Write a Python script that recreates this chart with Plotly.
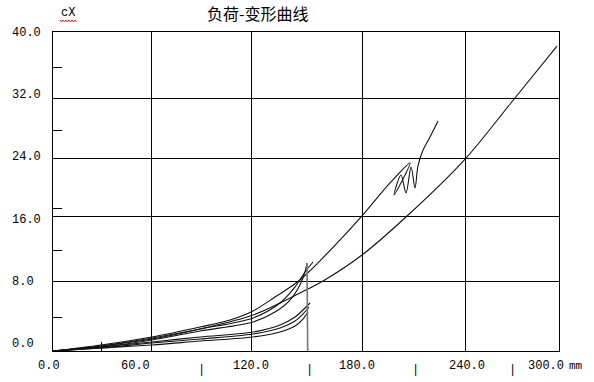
import plotly.graph_objects as go

# ---- axes / labels ----
X_RANGE = [0, 300]
Y_RANGE = [0, 40]
grid_x = [58.6, 117.9, 183.7, 244.8]
grid_y = [8.7, 16.9, 24.2, 31.6]
x_label_pos = [-2.4, 49.2, 117.4, 180.2, 245.5, 292.3]
x_label_text = ["0.0", "60.0", "120.0", "180.0", "240.0", "300.0"]
y_label_pos = [0.88, 8.65, 16.43, 24.33, 32.1, 39.87]
y_label_text = ["0.0", "8.0", "16.0", "24.0", "32.0", "40.0"]
x_bar_pos = [88.3, 151.8, 214.7, 272.7]
x_minor = [28.5]
y_minor = [4.26, 12.66, 17.81, 27.71, 35.49]
title_text = "负荷-变形曲线"
y_unit = "cX"
x_unit = "mm"

# ---- curves (mm, load) ----
curve_a_x = [0, 28.5, 58.7, 87.2, 118.6, 146.4, 160.1, 183.2, 209.9, 244.9, 271.0, 298.8]
curve_a_y = [0, 0.63, 1.50, 2.76, 4.51, 7.27, 8.78, 12.04, 16.93, 24.20, 30.97, 38.24]

curve_b_x = [0, 28.5, 58.7, 87.2, 105.0, 118.6, 131.6, 146.4, 170.2, 183.2, 199.8, 211.7,
             202.2, 206.3, 209.3, 212.3, 214.6, 216.4, 219.4, 223.5, 228.3]
curve_b_y = [0, 0.75, 1.75, 3.01, 3.89, 5.02, 6.77, 8.90, 13.92, 16.93, 21.07, 23.57,
             19.56, 22.07, 19.81, 23.07, 20.44, 23.20, 25.20, 26.83, 28.84]

curve_c_x = [0, 28.5, 58.7, 87.2, 118.6, 134.6, 143.5, 149.4, 154.2]
curve_c_y = [0, 0.63, 1.63, 2.76, 4.14, 6.02, 8.03, 9.91, 11.16]

curve_d_x = [0, 28.5, 58.7, 87.2, 118.6, 131.6, 140.5, 146.4, 149.4, 150.6]
curve_d_y = [0, 0.50, 1.38, 2.51, 3.64, 4.89, 6.39, 8.28, 9.91, 11.03]

unload_x = [150.6, 151.0]
unload_y = [11.03, 0.0]

curve_e_x = [0, 28.5, 58.7, 87.2, 118.6, 134.6, 143.5, 148.2, 152.4]
curve_e_y = [0, 0.50, 1.13, 1.76, 2.38, 3.26, 4.26, 5.14, 6.02]

curve_f_x = [0, 28.5, 58.7, 87.2, 118.6, 134.6, 143.5, 148.2, 151.8]
curve_f_y = [0, 0.38, 1.00, 1.50, 2.13, 2.88, 3.76, 4.64, 5.52]

curve_g_x = [0, 28.5, 58.7, 87.2, 118.6, 134.6, 143.5, 148.2, 151.2]
curve_g_y = [0, 0.38, 0.75, 1.25, 1.76, 2.38, 3.13, 4.01, 4.89]

curves = [(curve_a_x, curve_a_y), (curve_b_x, curve_b_y), (curve_c_x, curve_c_y),
          (curve_d_x, curve_d_y), (curve_e_x, curve_e_y), (curve_f_x, curve_f_y),
          (curve_g_x, curve_g_y)]

MONO = "Liberation Mono, DejaVu Sans Mono, monospace"
XSPAN = X_RANGE[1] - X_RANGE[0]

fig = go.Figure()
for cx, cy in curves:
    fig.add_trace(go.Scatter(x=cx, y=cy, mode="lines",
                             line=dict(color="#111", width=1.1, shape="spline", smoothing=0.9),
                             hoverinfo="skip", showlegend=False))
fig.add_trace(go.Scatter(x=unload_x, y=unload_y, mode="lines",
                         line=dict(color="#777", width=1.6),
                         hoverinfo="skip", showlegend=False))

annotations = []
for p, t in zip(x_label_pos, x_label_text):
    annotations.append(dict(x=(p - X_RANGE[0]) / XSPAN, xref="paper", y=0, yref="paper",
                            yshift=-15, text=t, showarrow=False, xanchor="center",
                            yanchor="middle", font=dict(family=MONO, size=12, color="#000")))
for p in x_bar_pos:
    annotations.append(dict(x=(p - X_RANGE[0]) / XSPAN, xref="paper", y=0, yref="paper",
                            yshift=-19, text="|", showarrow=False, xanchor="center",
                            yanchor="middle", font=dict(family=MONO, size=12, color="#000")))
for p, t in zip(y_label_pos, y_label_text):
    annotations.append(dict(x=0, xref="paper", xshift=-43, y=p, yref="y", text=t,
                            showarrow=False, xanchor="left", yanchor="middle",
                            font=dict(family=MONO, size=12, color="#000")))
annotations.append(dict(x=1.0336, xref="paper", y=0, yref="paper", yshift=-15, text=x_unit,
                        showarrow=False, xanchor="center", yanchor="middle",
                        font=dict(family=MONO, size=11, color="#000")))
annotations.append(dict(x=0, xref="paper", xshift=6, y=1, yref="paper", yshift=19, text=y_unit,
                        showarrow=False, xanchor="left", yanchor="middle",
                        font=dict(family=MONO, size=12, color="#000")))
annotations.append(dict(x=0.405, xref="paper", y=1, yref="paper", yshift=19, text=title_text,
                        showarrow=False, xanchor="center", yanchor="middle",
                        font=dict(family="Noto Sans CJK SC", size=16, color="#000")))

# red spell-check squiggle under the unit label
PL, PW, PB, PH = 53, 506, 351, 319
def px(x, y):
    return (x - PL) / PW, (PB - y) / PH
pts = []
xx = 60.0
k = 0
while xx <= 77:
    pts.append(px(xx, 20 if k % 2 == 0 else 22))
    xx += 1.5
    k += 1
path = "M " + " L ".join(f"{a:.5f},{b:.5f}" for a, b in pts)
shapes = [dict(type="path", path=path, xref="paper", yref="paper",
               line=dict(color="#e02020", width=1))]

axis_common = dict(showline=True, mirror=True, linecolor="#000", linewidth=1,
                   showgrid=True, gridcolor="#000", gridwidth=1, zeroline=False,
                   showticklabels=False, ticks="", fixedrange=True)

fig.update_layout(
    width=594, height=382,
    margin=dict(l=53, r=35, t=32, b=31),
    paper_bgcolor="#fff", plot_bgcolor="#fff",
    xaxis=dict(range=X_RANGE, tickmode="array", tickvals=grid_x,
               minor=dict(tickmode="array", tickvals=x_minor, ticks="inside", ticklen=9,
                          tickcolor="#000", tickwidth=1, showgrid=False),
               **axis_common),
    yaxis=dict(range=Y_RANGE, tickmode="array", tickvals=grid_y,
               minor=dict(tickmode="array", tickvals=y_minor, ticks="inside", ticklen=9,
                          tickcolor="#000", tickwidth=1, showgrid=False),
               **axis_common),
    annotations=annotations,
    shapes=shapes,
)

fig.write_html("out.html", config={"displayModeBar": False},
               post_script="document.body.style.margin='0';document.body.style.overflow='hidden';")
